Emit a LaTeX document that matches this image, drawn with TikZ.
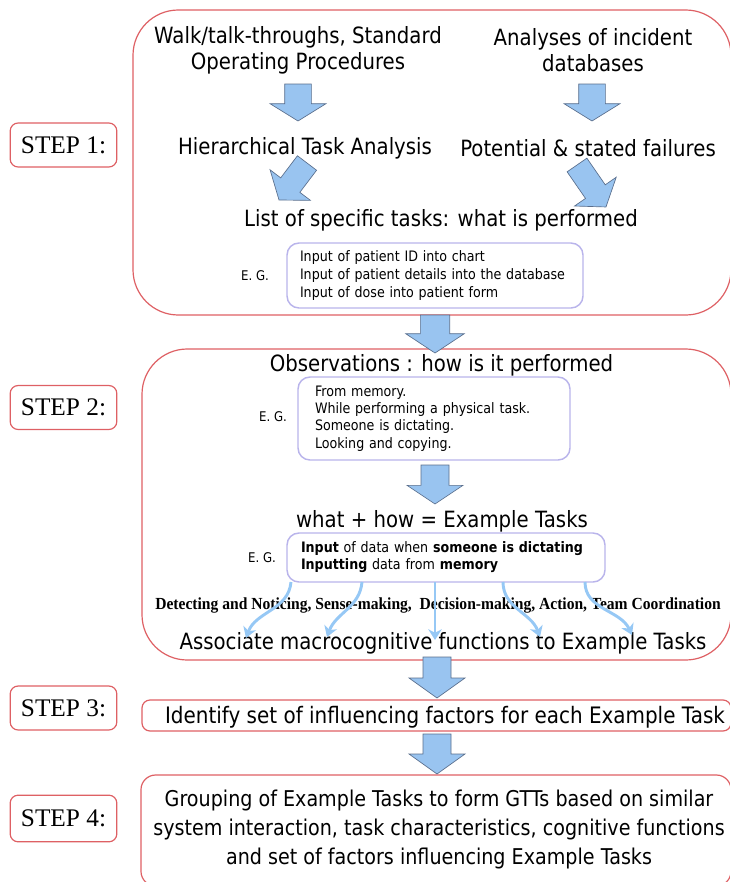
\documentclass[tikz,border=0pt]{standalone}
\usepackage{fontspec}
\setmainfont{DejaVu Sans}[FakeStretch=0.88]
\newfontfamily\stepfont{Liberation Serif}
\newfontfamily\funcfont{Liberation Serif}[FakeStretch=0.92]
\usetikzlibrary{calc,arrows.meta}

\definecolor{framered}{RGB}{222,96,100}
\definecolor{arrowfill}{RGB}{153,196,240}
\definecolor{arrowedge}{RGB}{90,110,140}
\definecolor{egedge}{RGB}{185,180,235}
\definecolor{curveblue}{RGB}{150,200,245}

\tikzset{
  frame/.style={draw=framered, line width=0.9pt},
  steplabel/.style={draw=framered, line width=0.9pt, rounded corners=6pt,
    minimum width=80pt, minimum height=33pt,
    font=\stepfont\fontsize{19}{22}\selectfont},
  maintext/.style={font=\fontsize{16.8}{19.5}\selectfont, align=center, inner sep=0pt},
  egbox/.style={draw=egedge, line width=1.1pt, rounded corners=9pt, fill=white,
    align=left, font=\fontsize{10.8}{13.5}\selectfont, inner ysep=0pt},
  eglabel/.style={font=\fontsize{10}{12}\selectfont, inner sep=0pt},
  blockarrow/.style={fill=arrowfill, draw=arrowedge, line width=0.5pt, line join=miter},
  funcarrow/.style={draw=curveblue, line width=2.2pt,
    -{Stealth[length=8pt,width=10pt,inset=2.5pt]}},
  functext/.style={font=\funcfont\bfseries\fontsize{12.7}{15}\selectfont,
    anchor=west, inner sep=0pt},
}

% block arrow from #1 (tail) to #2 (tip);
% #3 shaft half width, #4 head half width, #5 head length
\newcommand\fatarrow[5]{%
  \filldraw[blockarrow] let \p1=($(#2)-(#1)$), \n1={atan2(\y1,\x1)},
      \n2={veclen(\x1,\y1)} in
    {[shift={(#1)}, rotate=\n1]
     (0pt,#3) -- ({\n2-#5},#3) -- ({\n2-#5},#4) -- (\n2,0pt)
     -- ({\n2-#5},-#4) -- ({\n2-#5},-#3) -- (0pt,-#3) -- cycle};}

\begin{document}
\begin{tikzpicture}[x=0.75pt,y=-0.75pt]
\useasboundingbox (0,0) rectangle (730,882);
\clip (0,0) rectangle (730,882);

% step frames
\draw[frame, rounded corners=34pt] (133,10) rectangle (731,315);
\draw[frame, rounded corners=34pt] (142,349) rectangle (731,660);
\draw[frame, rounded corners=6pt] (142,700) rectangle (731,731);
\draw[frame, rounded corners=11pt] (141,775) rectangle (731,886);

% step labels
\node[steplabel] (s1) at (63.5,145) {STEP 1:};
\node[steplabel] (s2) at (63.5,407.5) {STEP 2:};
\node[steplabel] (s3) at (63.5,708) {STEP 3:};
\node[steplabel, minimum height=35pt] (s4) at (63.5,818.5) {STEP 4:};

% step 1
\node[maintext] (walk) at (298,50) {Walk/talk-throughs, Standard\\Operating Procedures};
\node[maintext] (incid) at (593,50) {Analyses of incident\\databases};
\node[maintext] (hta) at (305,148) {Hierarchical Task Analysis};
\node[maintext] (fail) at (588,148) {Potential \& stated failures};
\node[maintext] (list) at (441,220) {List of specific tasks: what is performed};
\node[egbox, text width=202.5pt, minimum height=48.75pt, inner xsep=9.75pt] (eg1) at (435,275.5)
  {Input of patient ID into chart\\Input of patient details into the database\\Input of dose into patient form};
\node[eglabel] (egl1) at (255,276) {E. G.};

% step 2
\node[maintext] (obs) at (441.5,365) {Observations : how is it performed};
\node[egbox, text width=178.5pt, minimum height=62.25pt, inner xsep=12.75pt,
  font=\fontsize{10.8}{13.1}\selectfont] (eg2) at (434,418.5)
  {From memory.\\While performing a physical task.\\Someone is dictating.\\Looking and copying.};
\node[eglabel] (egl2) at (273,417) {E. G.};
\node[maintext] (what) at (442,521) {what + how = Example Tasks};
\node[egbox, text width=217.5pt, minimum height=36.75pt, inner xsep=10.5pt,
  font=\fontsize{10.8}{12.75}\selectfont] (eg3) at (446,557.5)
  {\textbf{Input} of data when \textbf{someone is dictating}\\\textbf{Inputting} data from \textbf{memory}};
\node[eglabel] (egl3) at (262,558) {E. G.};
\node[functext] (funcs) at (155,605)
  {Detecting and Noticing, Sense-making,\ \ Decision-making, Action, Team Coordination};
\node[maintext] (assoc) at (443,643) {Associate macrocognitive functions to Example Tasks};

% step 3 and 4
\node[maintext, font=\fontsize{17}{19.5}\selectfont] (infl) at (445,717)
  {Identify set of influencing factors for each Example Task};
\node[maintext, font=\fontsize{16.3}{21.75}\selectfont] (group) at (439,829)
  {Grouping of Example Tasks to form GTTs based on similar\\
   system interaction, task characteristics, cognitive functions\\
   and set of factors influencing Example Tasks};

% arrow end points
\coordinate (a1t) at (298,84);  \coordinate (a1h) at (298,121);
\coordinate (a2t) at (592,84);  \coordinate (a2h) at (592,121);
\coordinate (a3t) at (307,163); \coordinate (a3h) at (279,200);
\coordinate (a4t) at (577,165); \coordinate (a4h) at (606,207);
\coordinate (a5t) at (435,315); \coordinate (a5h) at (435,353);
\coordinate (a6t) at (435,465); \coordinate (a6h) at (435,504);
\coordinate (a7t) at (437,657); \coordinate (a7h) at (437,698);
\coordinate (a8t) at (437,734); \coordinate (a8h) at (437,774);

\fatarrow{a1t}{a1h}{10pt}{21pt}{13pt}
\fatarrow{a2t}{a2h}{10pt}{21pt}{13pt}
\fatarrow{a3t}{a3h}{9pt}{19pt}{14pt}
\fatarrow{a4t}{a4h}{9pt}{19pt}{14pt}
\fatarrow{a5t}{a5h}{11pt}{22pt}{14.5pt}
\fatarrow{a6t}{a6h}{10.5pt}{21pt}{14pt}
\fatarrow{a7t}{a7h}{10.5pt}{21pt}{15pt}
\fatarrow{a8t}{a8h}{10.5pt}{21pt}{15pt}

% macrocognitive function arrows
\coordinate (f1t) at (291,582); \coordinate (f1h) at (246,638);
\coordinate (f2t) at (362,582); \coordinate (f2h) at (327,637);
\coordinate (f3t) at (435,582); \coordinate (f3h) at (435,640);
\coordinate (f4t) at (503,582); \coordinate (f4h) at (540,637);
\coordinate (f5t) at (585,582); \coordinate (f5h) at (632,635);
\draw[funcarrow] (f1t) to[out=-95, in=70] (f1h);
\draw[funcarrow] (f2t) to[out=-95, in=70] (f2h);
\draw[funcarrow] (f3t) -- (f3h);
\draw[funcarrow] (f4t) to[out=-90, in=110] (f4h);
\draw[funcarrow] (f5t) to[out=-90, in=115] (f5h);
\end{tikzpicture}
\end{document}
